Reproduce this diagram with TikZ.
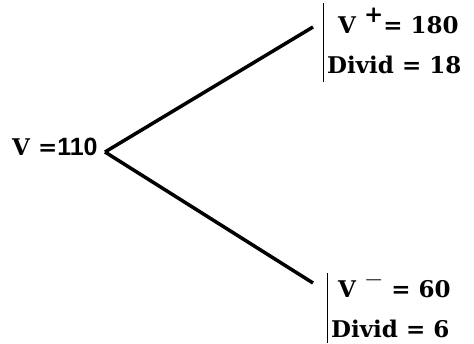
\documentclass[tikz,border=0pt]{standalone}
\usepackage{fontspec}
\setmainfont{DejaVu Serif}
\setsansfont{Liberation Sans}
\tikzset{val/.style={anchor=base west,inner sep=0pt,font=\fontsize{23}{26}\selectfont\bfseries}}
\newcommand{\sgn}[1]{\raisebox{.45em}{#1}}
\begin{document}
\begin{tikzpicture}[x=1pt,y=-1pt]
\useasboundingbox (0,0) rectangle (474,343);
\node[val] (root) at (12,155) {V ={\sffamily\fontsize{25}{28}\selectfont 110}};
\coordinate (fork) at (105,152);
\coordinate (up) at (313,27);
\coordinate (down) at (313,283);
\draw[line width=3.5pt] (fork) -- (up);
\draw[line width=3.5pt] (fork) -- (down);

\draw[line width=1pt] (323,3) coordinate (bt) -- (323,82) coordinate (bb);
\node[val] (vplus) at (338,33) {V \sgn{+}= 180};
\node[val] (dplus) at (327,73) {Divid = 18};

\draw[line width=1pt] (327,273) coordinate (ct) -- (327,343) coordinate (cb);
\node[val] (vminus) at (338,297) {V \sgn{$-$} = 60};
\node[val] (dminus) at (331,337) {Divid = 6};
\end{tikzpicture}
\end{document}
